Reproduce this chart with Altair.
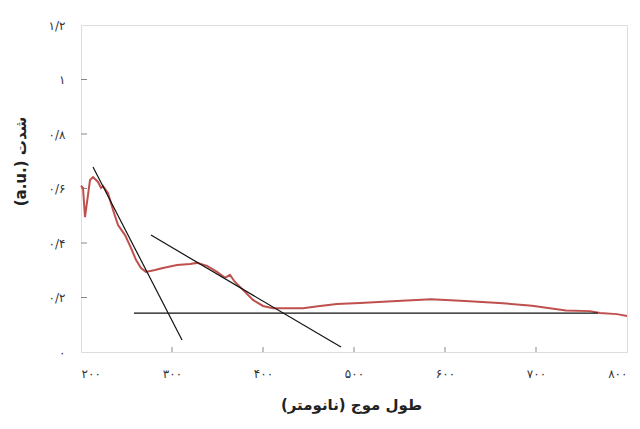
import altair as alt
import pandas as pd

# Spectrum (wavelength nm, intensity a.u.)
wavelength = [200, 202.2, 204.4, 209.9, 213.2, 218.7, 222, 224.2, 229.7, 235.2, 240.7,
              248.4, 254.9, 260.4, 265.9, 271.4, 281.3, 290.1, 305.5, 319.8, 327.5,
              338.5, 349.5, 358.2, 363.7, 369.2, 378, 389, 400, 411, 429.7, 444,
              462.6, 481.3, 506.6, 547.3, 584.6, 622, 659.3, 695.6, 733, 759.3,
              770.3, 789, 800]
intensity = [0.61, 0.602, 0.495, 0.631, 0.642, 0.624, 0.602, 0.609, 0.583, 0.521, 0.466,
             0.429, 0.382, 0.338, 0.308, 0.294, 0.301, 0.308, 0.319, 0.323, 0.327,
             0.316, 0.294, 0.272, 0.283, 0.257, 0.228, 0.191, 0.169, 0.161, 0.161, 0.161,
             0.169, 0.176, 0.180, 0.187, 0.194, 0.187, 0.180, 0.170, 0.152, 0.150,
             0.143, 0.139, 0.132]

# Tangent / baseline lines (two endpoints each)
line_id = ["t1", "t1", "t2", "t2", "b", "b"]
line_x = [213.2, 311, 276.9, 485.7, 258.2, 768]
line_y = [0.679, 0.044, 0.429, 0.018, 0.143, 0.143]

x_tick_values = [200, 300, 400, 500, 600, 700, 800]
x_tick_labels = ["۲۰۰", "۳۰۰", "۴۰۰", "۵۰۰", "۶۰۰", "۷۰۰", "۸۰۰"]
y_tick_values = [0, 0.2, 0.4, 0.6, 0.8, 1.0, 1.2]
y_tick_labels = ["۰", "۰/۲", "۰/۴", "۰/۶", "۰/۸", "۱", "۱/۲"]

x_title = "طول موج (نانومتر)"
y_title = "شدت (a.u.\u200e)"

W, H = 546, 327

def label_expr(values, labels, scale):
    parts = [f"round(datum.value*{scale})=={round(v*scale)} ? '{l}'" for v, l in zip(values, labels)]
    return " : ".join(parts) + " : ''"

spec_df = pd.DataFrame({"x": wavelength, "y": intensity})
lines_df = pd.DataFrame({"id": line_id, "x": line_x, "y": line_y})
xt_df = pd.DataFrame({"x": x_tick_values[1:-1]})
yt_df = pd.DataFrame({"y": y_tick_values[1:-1]})

xscale = alt.Scale(domain=[200, 800], nice=False, zero=False)
yscale = alt.Scale(domain=[0, 1.2], nice=False)

xaxis = alt.Axis(values=x_tick_values, labelExpr=label_expr(x_tick_values, x_tick_labels, 1),
                 title="\u202b" + x_title + "\u202c", domain=False, ticks=False, grid=False,
                 labelPadding=16, labelFontSize=12, labelColor="#333", labelFont="DejaVu Sans",
                 titleFont="DejaVu Sans", titleFontSize=15, titleFontWeight="bold",
                 titleColor="#222", titlePadding=18, titleX=270, labelFlush=True)
yaxis = alt.Axis(values=y_tick_values, labelExpr=label_expr(y_tick_values, y_tick_labels, 10),
                 title="\u202b" + y_title + "\u202c", domain=False, ticks=False, grid=False,
                 labelPadding=16, labelFontSize=12, labelColor="#333", labelFont="DejaVu Sans",
                 titleFont="DejaVu Sans", titleFontSize=15, titleFontWeight="bold",
                 titleColor="#222", titleX=-61, titleY=136, titleAngle=270,
                 titleAlign="center", titleBaseline="middle", labelFlush=False)

spectrum = alt.Chart(spec_df).mark_line(color="#c0504d", strokeWidth=2).encode(
    x=alt.X("x:Q", scale=xscale, axis=xaxis),
    y=alt.Y("y:Q", scale=yscale, axis=yaxis),
)

tangents = alt.Chart(lines_df).mark_line(color="#111", strokeWidth=1.2).encode(
    x=alt.X("x:Q", scale=xscale),
    y=alt.Y("y:Q", scale=yscale),
    detail="id:N",
)

xticks = alt.Chart(xt_df).mark_rule(color="#888", strokeWidth=1).encode(
    x=alt.X("x:Q", scale=xscale),
    y=alt.value(H), y2=alt.value(H - 5),
)
yticks = alt.Chart(yt_df).mark_rule(color="#888", strokeWidth=1).encode(
    y=alt.Y("y:Q", scale=yscale),
    x=alt.value(0), x2=alt.value(6),
)

chart = alt.layer(xticks, yticks, spectrum, tangents).properties(
    width=W, height=H,
    autosize=alt.AutoSizeParams(type="none"),
    padding={"left": 73, "top": 17, "right": 5, "bottom": 70},
).configure_view(
    fill="#f0f0f0", stroke="#8a8a8a", strokeWidth=1.5,
).configure(background="white")

chart.save("out.html", embed_options={"renderer": "svg", "actions": False})
